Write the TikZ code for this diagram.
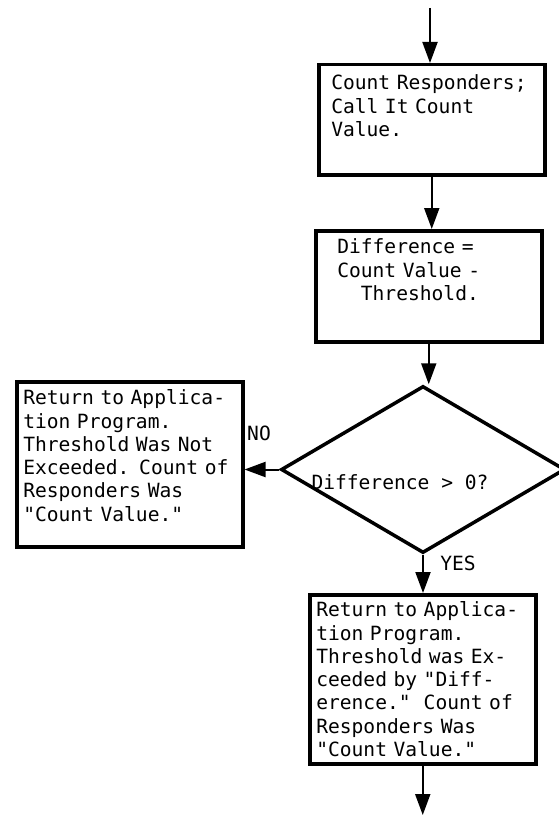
\documentclass[tikz,border=0pt]{standalone}
\usepackage{fontspec}
\setmonofont{DejaVu Sans Mono}
\usepackage{tikz}
\usetikzlibrary{arrows.meta}
\usetikzlibrary{shapes.geometric}

\tikzset{
    flowtext/.style={font=\ttfamily\fontsize{19.6bp}{23.3bp}\selectfont},
    stepbox/.style={flowtext, draw, line width=3.5bp, align=left,
        anchor=north west, inner xsep=0pt, inner ysep=0pt,
        minimum width=226bp},
    testbox/.style={draw, shape=diamond, line width=3.5bp, inner sep=0pt,
        minimum width=284bp, minimum height=167bp},
    flow/.style={line width=2bp, -{Triangle[length=21bp,width=15bp]}}
}

\begin{document}
\begin{tikzpicture}[x=1bp,y=-1bp]
    \useasboundingbox (0,0) rectangle (559,816);
    \clip (0,0) rectangle (559,816);
    \coordinate (start) at (430,8);
    \node[stepbox, text width=201bp, text height=25bp, text depth=85bp]
        (count) at (317,63)
        {Count Responders;\\Call It Count\\Value.};
    \node[stepbox, text width=183bp, text height=23bp, text depth=88bp]
        (diff) at (314,229)
        {Difference =\\Count Value -\\\hphantom{xx}Threshold.};
    \node[testbox] (test) at (423,469.5) {};
    \node[flowtext] (testtxt) at (400,482) {Difference > 0?};
    \node[stepbox, text width=213bp, text height=23bp, text depth=142bp]
        (notexc) at (15,380)
        {Return to Applica-\\tion Program.\\Threshold Was Not\\Exceeded. Count of\\Responders Was\\"Count Value."};
    \node[stepbox, text width=213bp, text height=22bp, text depth=147bp]
        (exc) at (308,593)
        {Return to Applica-\\tion Program.\\Threshold was Ex-\\ceeded by "Diff-\\erence."\ \ Count of\\Responders Was\\"Count Value."};
    \coordinate (stop) at (421,815);
    \node[flowtext] (no) at (259,433) {NO};
    \node[flowtext] (yes) at (458,563) {YES};
    \draw[flow] (start) -- (start |- count.north);
    \draw[flow] (count.south) -- (count.south |- diff.north);
    \draw[flow] (diff.south) -- (diff.south |- test.north);
    \draw[flow] (test.west) -- (test.west -| notexc.east);
    \draw[flow] (test.south) -- (test.south |- exc.north);
    \draw[flow] (exc.south) -- (exc.south |- stop);
\end{tikzpicture}
\end{document}
